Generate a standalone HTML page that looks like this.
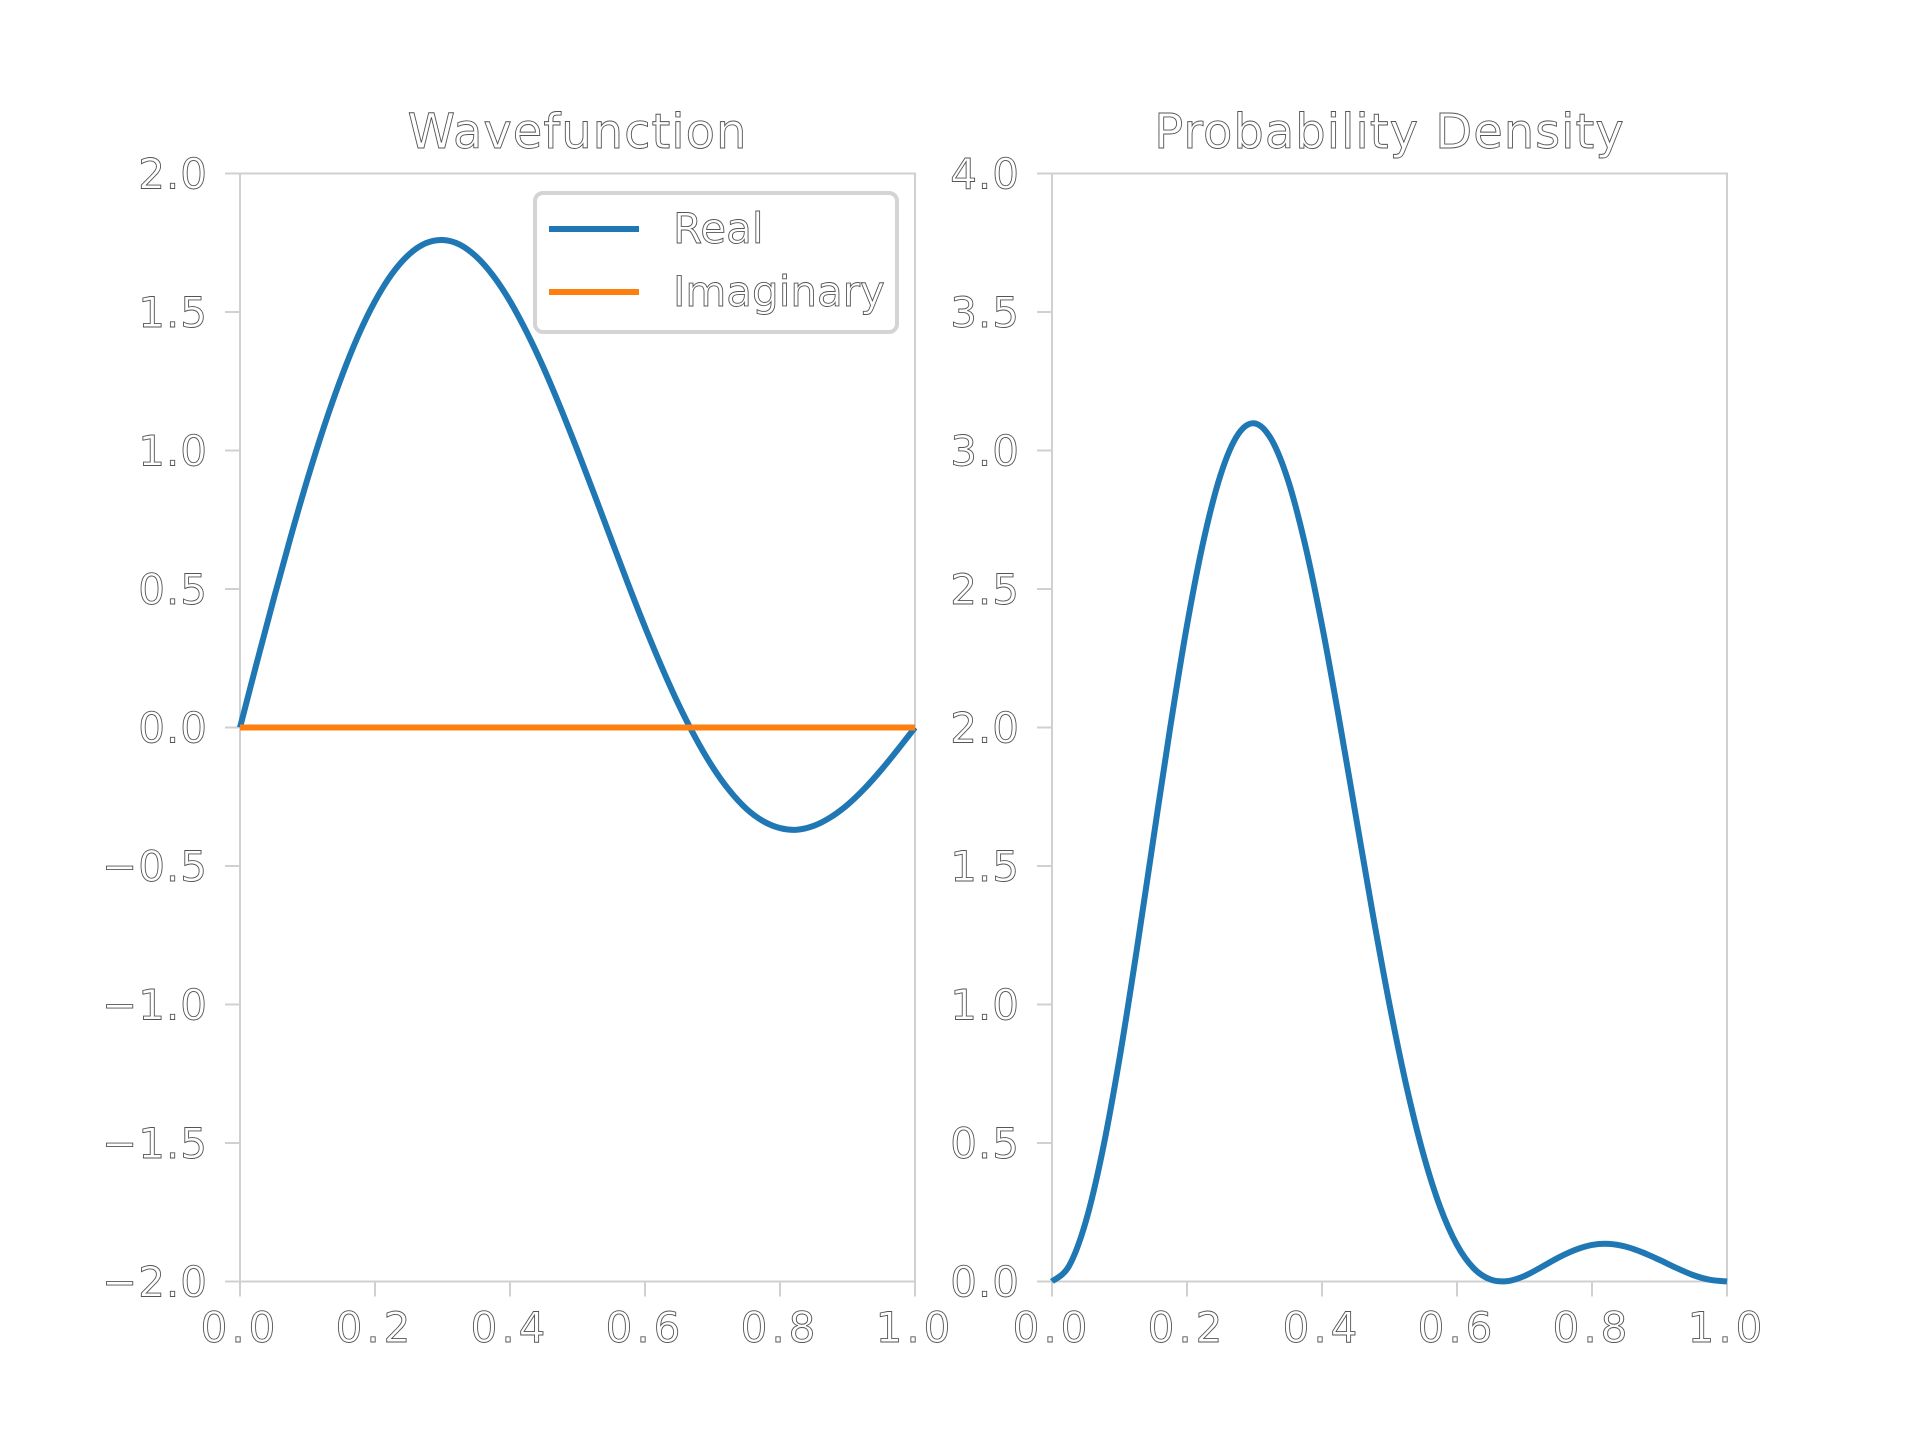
<!DOCTYPE html>
<html><head><meta charset="utf-8"><style>
html,body{margin:0;padding:0;background:#fff;}
svg text{font-family:"DejaVu Sans","Liberation Sans",sans-serif;fill:#fff;stroke:#555;stroke-width:0.9;}
</style></head><body>
<svg id="fig" width="1920" height="1440" xmlns="http://www.w3.org/2000/svg"></svg>
<script>
const xs = [0,0.025,0.05,0.075,0.1,0.125,0.15,0.175,0.2,0.225,0.25,0.275,0.3,0.325,0.35,0.375,0.4,0.425,0.45,0.475,0.5,0.525,0.55,0.575,0.6,0.625,0.65,0.675,0.7,0.725,0.75,0.775,0.8,0.825,0.85,0.875,0.9,0.925,0.95,0.975,1.0];
const realVals = [0,0.235,0.465,0.687,0.897,1.090,1.263,1.414,1.539,1.637,1.707,1.748,1.760,1.744,1.700,1.631,1.539,1.426,1.297,1.153,1.000,0.841,0.679,0.518,0.363,0.217,0.082,-0.038,-0.142,-0.227,-0.293,-0.338,-0.363,-0.369,-0.355,-0.324,-0.279,-0.221,-0.153,-0.078,0];
const imagVals = [0,0,0,0,0,0,0,0,0,0,0,0,0,0,0,0,0,0,0,0,0,0,0,0,0,0,0,0,0,0,0,0,0,0,0,0,0,0,0,0,0];
const densVals = [0,0.055,0.216,0.473,0.805,1.188,1.595,1.998,2.369,2.680,2.914,3.056,3.098,3.040,2.890,2.660,2.369,2.035,1.682,1.330,1.000,0.706,0.461,0.269,0.132,0.047,0.007,0.0015,0.020,0.052,0.086,0.114,0.132,0.136,0.126,0.105,0.078,0.049,0.023,0.006,0];
const xTicks = [0,0.2,0.4,0.6,0.8,1.0];
const xTickLabels = ["0.0","0.2","0.4","0.6","0.8","1.0"];
const yTicksL = [-2,-1.5,-1,-0.5,0,0.5,1,1.5,2];
const yTickLabelsL = ["\u22122.0","\u22121.5","\u22121.0","\u22120.5","0.0","0.5","1.0","1.5","2.0"];
const yTicksR = [0,0.5,1,1.5,2,2.5,3,3.5,4];
const yTickLabelsR = ["0.0","0.5","1.0","1.5","2.0","2.5","3.0","3.5","4.0"];

const NS="http://www.w3.org/2000/svg";
const svg=document.getElementById('fig');
function mk(tag,attrs,parent){const e=document.createElementNS(NS,tag);for(const k in attrs)e.setAttribute(k,attrs[k]);(parent||svg).appendChild(e);return e;}
const axTop=173.5,axBot=1281.5;
function panel(x0,x1,ymin,ymax,yTicks,yLabels,title,name){
  const g=mk('g',{});
  
  
  const sx=v=>x0+(v)*(x1-x0);
  const sy=v=>axBot-(v-ymin)/(ymax-ymin)*(axBot-axTop);
  const r=mk('rect',{x:x0,y:axTop,width:x1-x0,height:axBot-axTop,fill:'none',stroke:'#d0d0d0','stroke-width':2},g);
  
  
  xTicks.forEach((t,i)=>{
    const X=sx(t);
    const l=mk('line',{x1:X,x2:X,y1:axBot,y2:axBot+15,stroke:'#d0d0d0','stroke-width':2},g);
    
    
    const tx=mk('text',{x:X,y:1342,'text-anchor':'middle','font-size':42,'letter-spacing':4},g);
    tx.textContent=xTickLabels[i];
    
    
  });
  yTicks.forEach((t,i)=>{
    const Y=sy(t);
    const l=mk('line',{x1:x0-15,x2:x0,y1:Y,y2:Y,stroke:'#d0d0d0','stroke-width':2},g);
    
    
    const tx=mk('text',{x:x0-32,y:Y+15,'text-anchor':'end','font-size':42,'letter-spacing':1},g);
    tx.textContent=yLabels[i];
    
    
  });
  const tt=mk('text',{x:(x0+x1)/2,y:148,'text-anchor':'middle','font-size':48,'letter-spacing':1},g);
  tt.textContent=title;
  
  
  return {g,sx,sy};
}
function pathFor(vals,sx,sy){
  const P=xs.map((x,i)=>[sx(x),sy(vals[i])]);
  let d='M'+P[0][0]+','+P[0][1];
  for(let i=0;i<P.length-1;i++){
    const p0=P[Math.max(0,i-1)],p1=P[i],p2=P[i+1],p3=P[Math.min(P.length-1,i+2)];
    const c1=[p1[0]+(p2[0]-p0[0])/6,p1[1]+(p2[1]-p0[1])/6];
    const c2=[p2[0]-(p3[0]-p1[0])/6,p2[1]-(p3[1]-p1[1])/6];
    d+=' C'+c1[0]+','+c1[1]+' '+c2[0]+','+c2[1]+' '+p2[0]+','+p2[1];
  }
  return d;
}
const L=panel(240,915,-2,2,yTicksL,yTickLabelsL,'Wavefunction','wavefunction-panel');
const pr=mk('path',{d:pathFor(realVals,L.sx,L.sy),fill:'none',stroke:'#1f77b4','stroke-width':6},L.g);


const pim=mk('path',{d:pathFor(imagVals,L.sx,L.sy),fill:'none',stroke:'#ff7f0e','stroke-width':6},L.g);


const lg=mk('g',{},L.g);


mk('rect',{x:535,y:193,width:362,height:139,rx:8,fill:'#fff',stroke:'#d4d4d4','stroke-width':4},lg);
mk('line',{x1:549,x2:639,y1:229,y2:229,stroke:'#1f77b4','stroke-width':6},lg);
mk('line',{x1:549,x2:639,y1:292,y2:292,stroke:'#ff7f0e','stroke-width':6},lg);
const t1=mk('text',{x:673,y:243,'font-size':42},lg);t1.textContent='Real';


const t2=mk('text',{x:673,y:306,'font-size':42},lg);t2.textContent='Imaginary';



const R=panel(1052,1727,0,4,yTicksR,yTickLabelsR,'Probability Density','density-panel');
const pd=mk('path',{d:pathFor(densVals,R.sx,R.sy),fill:'none',stroke:'#1f77b4','stroke-width':6},R.g);


</script>
</body></html>
